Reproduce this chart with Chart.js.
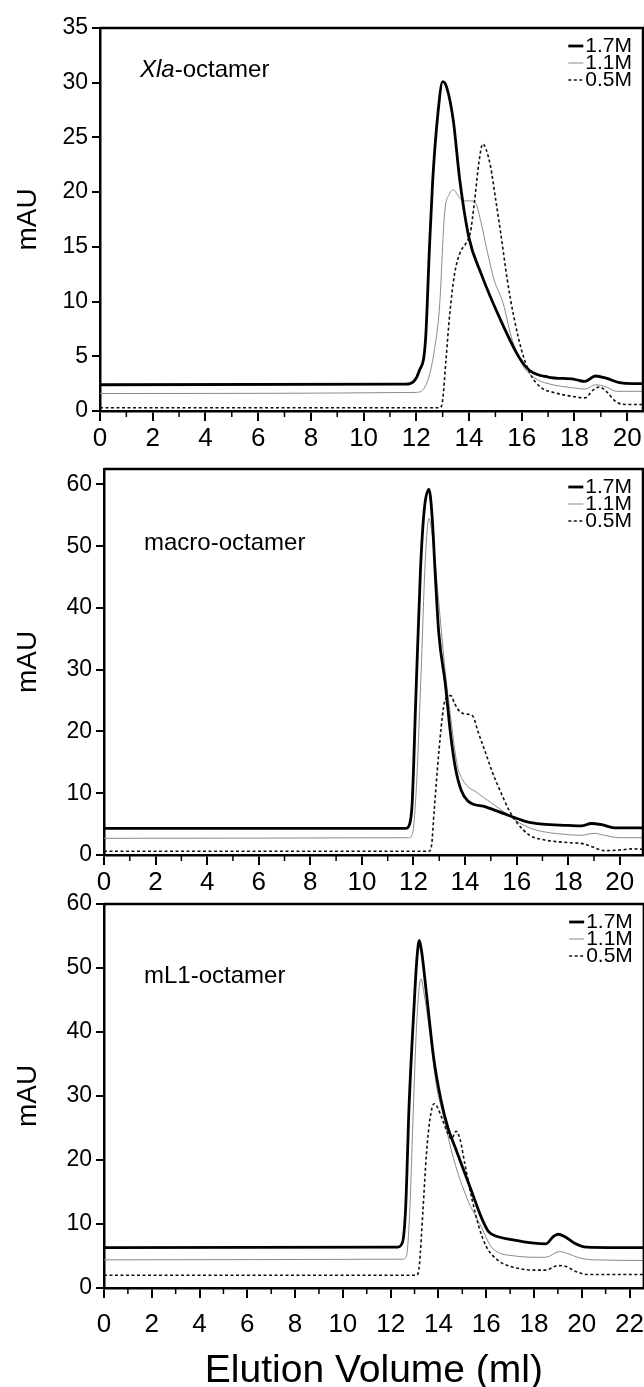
<!DOCTYPE html>
<html lang="en">
<head>
<meta charset="utf-8">
<title>Elution profiles</title>
<script src="https://cdn.jsdelivr.net/npm/chart.js@4.4.1/dist/chart.umd.min.js"></script>
<style>
  html, body { margin: 0; padding: 0; background: #fff; }
  #lienzo { position: relative; width: 644px; height: 1387px; overflow: hidden; }
  #lienzo canvas { position: absolute; left: 0; }
</style>
</head>
<body>
<div id="lienzo">
  <canvas id="xla" width="644" height="460" style="top:0px"></canvas>
  <canvas id="macro" width="644" height="460" style="top:440px"></canvas>
  <canvas id="ml1" width="655" height="507" style="top:880px"></canvas>
</div>
<script>
// salt concentrations (legend)
const sales = ['1.7M', '1.1M', '0.5M'];

// Xla-octamer: elution volume (ml) / absorbance (mAU)
const xlaVol17 = [0, 11.6, 11.9, 12.1, 12.35, 12.5, 12.62, 12.82, 13.0, 13.15, 13.4, 13.65, 14.0, 14.45, 15.2, 15.9, 16.3, 17.0, 18.0, 18.4, 18.8, 19.2, 19.7, 20.2, 21];
const xlaAbs17 = [2.4, 2.45, 2.7, 3.6, 6.5, 15, 21, 27.2, 30.1, 29.6, 26.6, 21.1, 15.8, 12.6, 8.3, 4.9, 3.7, 3.1, 2.9, 2.7, 3.2, 3.0, 2.6, 2.5, 2.5];
const xlaVol11 = [0, 12.0, 12.3, 12.5, 12.68, 12.88, 13.07, 13.25, 13.42, 13.6, 13.8, 14.05, 14.25, 14.43, 14.7, 14.95, 15.3, 15.6, 16.0, 16.5, 17.0, 18.0, 18.4, 18.8, 19.2, 19.6, 21];
const xlaAbs11 = [1.6, 1.7, 2.1, 3.3, 5.5, 9.5, 18, 19.8, 20.2, 19.6, 19.2, 19.2, 19.0, 17.5, 14.5, 12, 9.8, 6.8, 4.3, 3.0, 2.5, 2.1, 2.0, 2.4, 2.2, 1.8, 1.8];
const xlaVol05 = [0, 12.9, 13.0, 13.12, 13.27, 13.45, 13.65, 13.9, 14.05, 14.2, 14.38, 14.52, 14.65, 14.82, 15.0, 15.2, 15.45, 15.7, 16.0, 16.3, 16.7, 17.2, 18.0, 18.4, 18.7, 18.95, 19.2, 19.6, 20.0, 21];
const xlaAbs05 = [0.3, 0.3, 1.0, 4.5, 8.9, 12.5, 14.4, 15.4, 16.3, 19, 22.8, 24.4, 23.9, 22.3, 19.5, 16.3, 12, 8.6, 5.5, 3.5, 2.2, 1.7, 1.3, 1.2, 1.9, 2.2, 1.8, 0.8, 0.6, 0.6];

// macro-octamer
const macVol17 = [0, 11.7, 11.85, 11.95, 12.08, 12.27, 12.42, 12.6, 12.72, 12.85, 12.98, 13.24, 13.44, 13.63, 13.85, 14.1, 14.8, 15.7, 16.3, 17.0, 18.0, 18.5, 18.9, 19.3, 19.8, 21];
const macAbs17 = [4.3, 4.3, 5.0, 8.4, 24, 46, 56, 59.2, 55, 45, 36, 27.5, 19.5, 14, 10.5, 8.8, 7.8, 6.4, 5.5, 5.0, 4.8, 4.7, 5.1, 4.9, 4.4, 4.4];
const macVol11 = [0, 11.8, 11.95, 12.1, 12.3, 12.45, 12.6, 12.75, 13.0, 13.2, 13.45, 13.7, 13.9, 14.5, 15.0, 15.5, 16.0, 16.5, 17.0, 18.0, 18.5, 19.0, 19.4, 20.0, 21];
const macAbs11 = [2.7, 2.8, 3.3, 10, 30, 47, 54.5, 51, 40, 31, 22, 14.5, 12.2, 10, 8.5, 7, 5.5, 4.4, 3.8, 3.3, 3.2, 3.5, 3.2, 2.8, 2.8];
const macVol05 = [0, 12.6, 12.7, 12.8, 12.98, 13.17, 13.3, 13.45, 13.6, 13.8, 14.1, 14.3, 14.5, 14.8, 15.05, 15.35, 15.7, 16.0, 16.5, 17.0, 18.0, 18.6, 19.0, 19.4, 20.0, 20.5, 21];
const macAbs05 = [0.6, 0.6, 1.5, 7, 16.5, 24, 25.6, 25.8, 24.5, 23.2, 22.8, 22.5, 20, 16.5, 13.5, 10.5, 7.3, 5.3, 3.2, 2.5, 2.0, 1.8, 1.2, 0.7, 0.8, 1.0, 0.9];

// mL1-octamer
const mlVol17 = [0, 12.3, 12.5, 12.63, 12.77, 12.98, 13.1, 13.2, 13.3, 13.5, 13.8, 14.1, 14.4, 14.7, 15.0, 15.4, 15.8, 16.1, 16.5, 17.0, 18.0, 18.5, 18.8, 19.0, 19.3, 19.7, 20.2, 22.7];
const mlAbs17 = [6.3, 6.4, 7.2, 12.7, 28.3, 44, 51.5, 54.3, 52.5, 46, 36, 29.5, 25, 22, 19, 15, 11, 8.8, 8.0, 7.6, 7.0, 6.9, 8.0, 8.4, 8.0, 7.0, 6.4, 6.3];
const mlVol11 = [0, 12.5, 12.66, 12.8, 12.95, 13.1, 13.27, 13.4, 13.6, 13.9, 14.2, 14.65, 15.2, 15.8, 16.2, 16.6, 17.0, 18.0, 18.5, 19.07, 19.4, 19.9, 20.5, 22.7];
const mlAbs11 = [4.4, 4.5, 5.0, 12, 28, 42, 48.3, 46, 41, 32, 27, 20, 14, 9.5, 6.5, 5.4, 5.1, 4.8, 4.8, 5.7, 5.4, 4.7, 4.4, 4.3];
const mlVol05 = [0, 13.1, 13.2, 13.35, 13.5, 13.65, 13.82, 13.95, 14.15, 14.35, 14.55, 14.74, 14.9, 15.1, 15.4, 15.7, 16.0, 16.5, 17.0, 18.0, 18.5, 19.0, 19.3, 19.8, 20.3, 22.7];
const mlAbs05 = [2.0, 2.0, 3.5, 12, 21, 26.5, 28.8, 28.3, 26.5, 24.5, 23.3, 24.5, 23.3, 19.5, 14, 9.5, 6.5, 4.3, 3.4, 2.8, 2.8, 3.5, 3.4, 2.5, 2.1, 2.1];

const fam = "'Liberation Sans', Arial, Helvetica, sans-serif";
Chart.defaults.font.family = fam;
Chart.defaults.color = '#000';
Chart.defaults.animation = false;

// line style for each salt
const estilos = [
    { borderColor: '#000', borderWidth: 2.8, borderDash: [], order: 0 },
    { borderColor: '#8a8a8a', borderWidth: 1, borderDash: [], order: 2 },
    { borderColor: '#111', borderWidth: 1.6, borderDash: [3, 2.5], order: 1 }
];

// frame, minor ticks, sample name and legend
const marco = {
    id: 'marco',
    afterDatasetsDraw(chart, args, opts) {
        const ctx = chart.ctx;
        const a = chart.chartArea;
        const x = chart.scales.x;
        ctx.save();
        ctx.strokeStyle = '#000';
        ctx.lineWidth = 2.5;
        ctx.beginPath();
        ctx.moveTo(a.left, a.top);
        ctx.lineTo(a.right, a.top);
        ctx.lineTo(a.right, a.bottom);
        ctx.stroke();

        // minor ticks every 1 ml
        ctx.lineWidth = 1.5;
        for (let v = 1; v < x.max; v += 2) {
            const px = x.getPixelForValue(v);
            ctx.beginPath();
            ctx.moveTo(px, a.bottom);
            ctx.lineTo(px, a.bottom + 6);
            ctx.stroke();
        }

        ctx.fillStyle = '#000';
        ctx.textBaseline = 'middle';
        ctx.textAlign = 'left';
        let tx = a.left + opts.nombreX;
        opts.nombre.forEach(([txt, cursiva]) => {
            ctx.font = (cursiva ? 'italic ' : '') + '24px ' + fam;
            ctx.fillText(txt, tx, a.top + opts.nombreY);
            tx += ctx.measureText(txt).width;
        });

        ctx.font = '21px ' + fam;
        ctx.textAlign = 'right';
        chart.data.datasets.forEach((ds, i) => {
            const y = a.top + 18 + i * 17;
            const xr = a.right - 11;
            const w = ctx.measureText(ds.label).width;
            ctx.fillStyle = '#000';
            ctx.fillText(ds.label, xr, y);
            ctx.strokeStyle = ds.borderColor;
            ctx.lineWidth = ds.borderWidth;
            ctx.setLineDash(ds.borderDash);
            ctx.beginPath();
            ctx.moveTo(xr - w - 17, y);
            ctx.lineTo(xr - w - 2, y);
            ctx.stroke();
            ctx.setLineDash([]);
        });
        ctx.restore();
    }
};

function serie(vol, abs, i) {
    return Object.assign({
        label: sales[i],
        data: vol.map((v, k) => ({ x: v, y: abs[k] })),
        pointRadius: 0,
        fill: false,
        cubicInterpolationMode: 'monotone'
    }, estilos[i]);
}

function graficar(id, p) {
    const ctx = document.getElementById(id).getContext('2d');
    return new Chart(ctx, {
        type: 'line',
        data: { datasets: [
            serie(p.vol[0], p.abs[0], 0),
            serie(p.vol[1], p.abs[1], 1),
            serie(p.vol[2], p.abs[2], 2)
        ] },
        options: {
            responsive: false,
            layout: { padding: { top: p.arriba, right: 1, left: 0, bottom: 0 } },
            plugins: {
                legend: { display: false },
                tooltip: { enabled: false },
                marco: { nombre: p.nombre, nombreX: 40, nombreY: p.nombreY }
            },
            scales: {
                x: {
                    type: 'linear', min: 0, max: p.xMax,
                    ticks: { stepSize: 2, includeBounds: false, autoSkip: false, maxRotation: 0, padding: p.xPad, font: { size: 26 } },
                    grid: { drawOnChartArea: false, color: '#000', lineWidth: 2, tickLength: 10 },
                    border: { color: '#000', width: 2.5 },
                    title: { display: p.titulo, text: 'Elution Volume (ml)', font: { size: 39, lineHeight: 0.8 }, padding: 0 },
                    afterFit: (s) => { s.height = p.altoX; }
                },
                y: {
                    min: 0, max: p.yMax,
                    ticks: { stepSize: p.yPaso, includeBounds: false, padding: 4, font: { size: 23 } },
                    grid: { drawOnChartArea: false, color: '#000', lineWidth: 2, tickLength: 8 },
                    border: { color: '#000', width: 2.5 },
                    title: { display: true, text: 'mAU', font: { size: 28 }, padding: { top: 11, bottom: 0 } },
                    afterFit: (s) => { s.width = p.anchoY; }
                }
            }
        },
        plugins: [marco]
    });
}

let grafXla = graficar('xla', {
    vol: [xlaVol17, xlaVol11, xlaVol05], abs: [xlaAbs17, xlaAbs11, xlaAbs05],
    xMax: 20.6, yMax: 35, yPaso: 5, arriba: 28, altoX: 49, anchoY: 100, xPad: 2,
    titulo: false, nombre: [['Xla', true], ['-octamer', false]], nombreY: 42
});
let grafMacro = graficar('macro', {
    vol: [macVol17, macVol11, macVol05], abs: [macAbs17, macAbs11, macAbs05],
    xMax: 20.9, yMax: 62.5, yPaso: 10, arriba: 29, altoX: 45, anchoY: 104, xPad: 2,
    titulo: false, nombre: [['macro-octamer', false]], nombreY: 74
});
let grafMl1 = graficar('ml1', {
    vol: [mlVol17, mlVol11, mlVol05], abs: [mlAbs17, mlAbs11, mlAbs05],
    xMax: 22.6, yMax: 60, yPaso: 10, arriba: 24, altoX: 99, anchoY: 104, xPad: 11,
    titulo: true, nombre: [['mL1-octamer', false]], nombreY: 72
});
</script>
</body>
</html>
